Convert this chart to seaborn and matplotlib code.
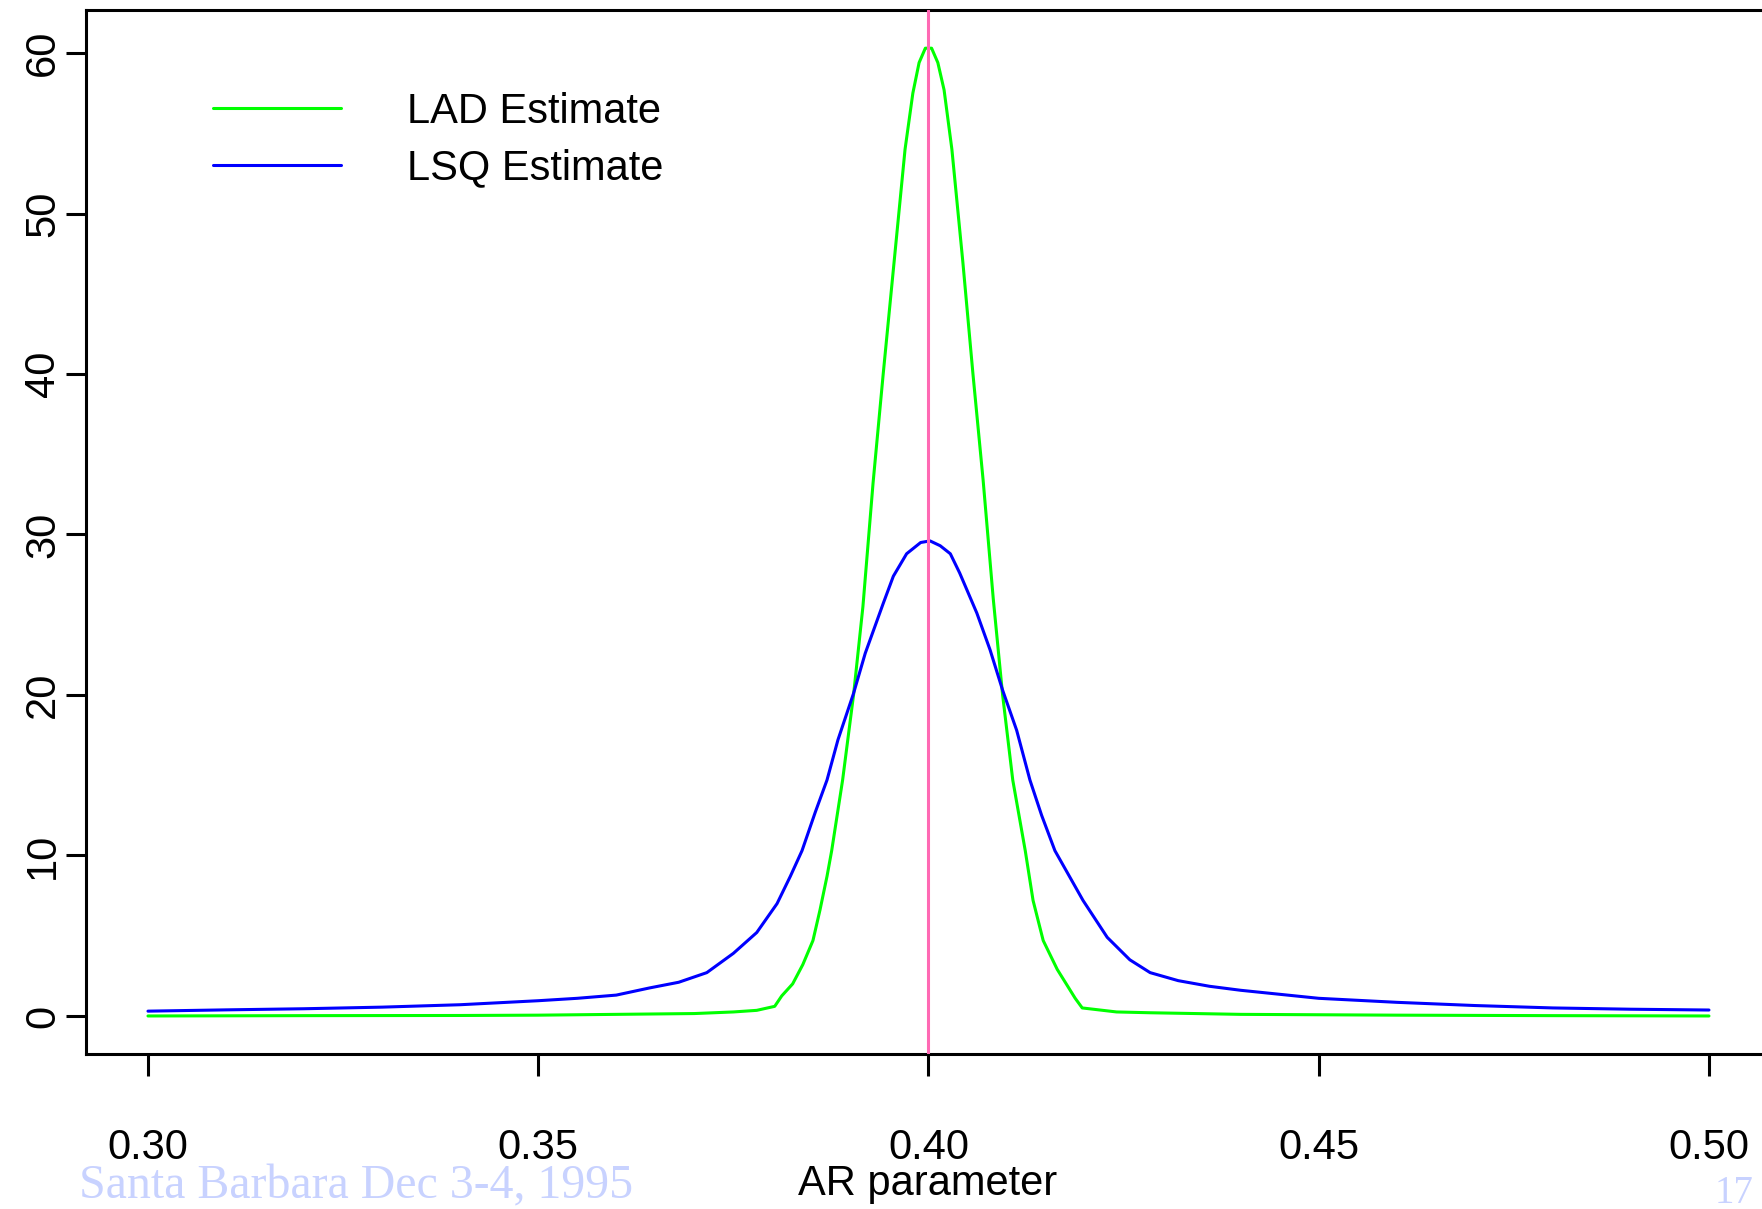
import numpy as np
import pandas as pd
import seaborn as sns
import matplotlib.pyplot as plt

# values
lad_x = [0.300, 0.320, 0.340, 0.350, 0.360, 0.370, 0.375, 0.378, 0.3803, 0.3812,
         0.3826, 0.3839, 0.3852, 0.3861, 0.3870, 0.3876, 0.3890, 0.3904, 0.3916, 0.3929,
         0.3942, 0.3956, 0.3970, 0.3980, 0.3988, 0.3996, 0.4004, 0.4012, 0.4020, 0.4030,
         0.4044, 0.4057, 0.4070, 0.4083, 0.4095, 0.4108, 0.4124, 0.4134, 0.4147, 0.4165,
         0.4188, 0.4197, 0.4241, 0.4284, 0.440, 0.460, 0.480, 0.500]
lad_y = [0.0, 0.02, 0.03, 0.05, 0.1, 0.15, 0.25, 0.35, 0.6, 1.25,
         2.0, 3.2, 4.7, 6.6, 8.7, 10.3, 14.7, 20.0, 25.5, 33.2,
         40.0, 47.0, 54.0, 57.5, 59.4, 60.3, 60.3, 59.4, 57.7, 54.0,
         47.0, 40.0, 33.4, 26.0, 20.0, 14.7, 10.3, 7.2, 4.7, 2.9,
         1.1, 0.5, 0.25, 0.2, 0.1, 0.05, 0.02, 0.0]

lsq_x = [0.300, 0.310, 0.320, 0.330, 0.340, 0.350, 0.355, 0.360, 0.3643, 0.368,
         0.3716, 0.3750, 0.3780, 0.3806, 0.3823, 0.3838, 0.3855, 0.3870, 0.3884, 0.3904,
         0.3919, 0.3942, 0.3955, 0.3972, 0.3990, 0.4002, 0.4015, 0.4028, 0.4040, 0.4062,
         0.4079, 0.4095, 0.4113, 0.4130, 0.4145, 0.4162, 0.4198, 0.4229, 0.4258, 0.4284,
         0.432, 0.436, 0.440, 0.450, 0.460, 0.470, 0.480, 0.490, 0.500]
lsq_y = [0.30, 0.38, 0.45, 0.55, 0.7, 0.95, 1.1, 1.3, 1.75, 2.1,
         2.7, 3.9, 5.2, 7.0, 8.7, 10.3, 12.7, 14.7, 17.2, 20.1,
         22.6, 25.7, 27.4, 28.8, 29.5, 29.6, 29.3, 28.8, 27.6, 25.1,
         22.8, 20.3, 17.8, 14.7, 12.5, 10.3, 7.2, 4.9, 3.5, 2.7,
         2.2, 1.85, 1.6, 1.1, 0.85, 0.65, 0.5, 0.42, 0.37]

x_ticks = [0.30, 0.35, 0.40, 0.45, 0.50]
x_tick_labels = ["0.30", "0.35", "0.40", "0.45", "0.50"]
y_ticks = [0, 10, 20, 30, 40, 50, 60]
true_value = 0.40

sns.set_style("ticks")
plt.rcParams['font.family'] = ['Liberation Sans', 'DejaVu Sans']
plt.rcParams['text.color'] = 'black'
plt.rcParams['axes.labelcolor'] = 'black'
plt.rcParams['xtick.color'] = 'black'
plt.rcParams['ytick.color'] = 'black'

W, H = 1762, 1209
fig = plt.figure(figsize=(W / 100, H / 100), dpi=100)
# axes box in pixels: left 86, top 10, bottom 1054, right just past the figure edge
ax = fig.add_axes([86 / W, (H - 1054) / H, 1684 / W, 1044 / H])

lad = pd.DataFrame({"x": lad_x, "y": lad_y})
lsq = pd.DataFrame({"x": lsq_x, "y": lsq_y})
sns.lineplot(data=lad, x="x", y="y", color="#00ff00", lw=2.2, label="LAD Estimate", ax=ax)
sns.lineplot(data=lsq, x="x", y="y", color="#0000ff", lw=2.2, label="LSQ Estimate", ax=ax)
ax.axvline(true_value, color="#ff69b4", lw=2.2, zorder=5)

ax.set_xlim(0.29206, 0.50782)
ax.set_ylim(-2.37, 62.68)
ax.set_xticks(x_ticks)
ax.set_xticklabels(x_tick_labels)
ax.set_yticks(y_ticks)
ax.set_yticklabels([str(v) for v in y_ticks], rotation=90, va="center")

ax.tick_params(axis="both", direction="out", width=2.2, labelsize=30, color="black",
               labelcolor="black")
ax.tick_params(axis="x", length=16, pad=37)
ax.tick_params(axis="y", length=14.4, pad=2)
for side in ["left", "bottom", "top"]:
    ax.spines[side].set_linewidth(2.2)
    ax.spines[side].set_color("black")
ax.spines["right"].set_visible(False)

ax.set_xlabel("AR parameter", fontsize=30, color="black")
ax.xaxis.set_label_coords(0.5, (1054 - 1195) / 1044)
ax.xaxis.label.set_va("baseline")
ax.set_ylabel("")

leg = ax.legend(loc="upper left", bbox_to_anchor=(213 / W, 1 - 92 / H),
                bbox_transform=fig.transFigure, frameon=False, fontsize=30,
                handlelength=3.07, handletextpad=1.58, labelspacing=0.4,
                borderpad=0, borderaxespad=0)
for t in leg.get_texts():
    t.set_color("black")

fig.text(79 / W, (H - 1198) / H, "Santa Barbara Dec 3-4, 1995", family="Liberation Serif",
         size=34.5, color="#c8d2ff", va="baseline")
fig.text(1753 / W, (H - 1203) / H, "17", family="Liberation Serif",
         size=28, color="#c8d2ff", ha="right", va="baseline")

fig.savefig("out.png", dpi=100)
